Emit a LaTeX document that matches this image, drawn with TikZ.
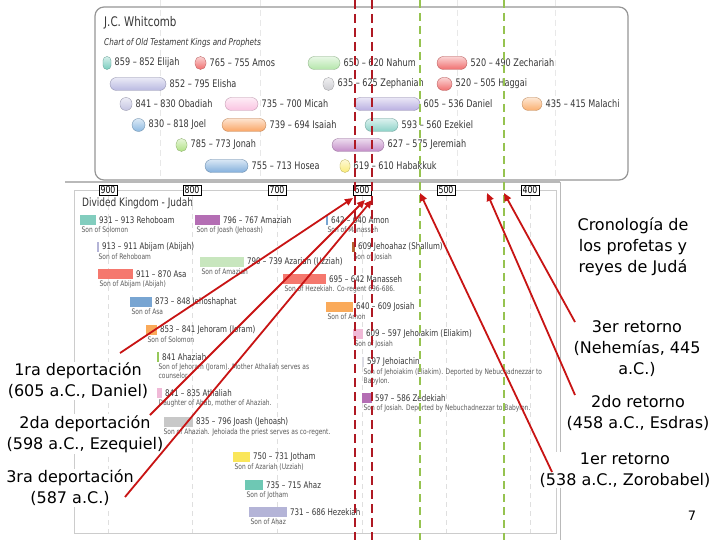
\documentclass[tikz,border=0pt]{standalone}
\usepackage{fontspec}
\setmainfont{DejaVu Sans}
\newfontfamily\chartfont[FakeStretch=0.78]{DejaVu Sans}
\usetikzlibrary{arrows.meta}

\definecolor{redline}{RGB}{175,25,35}
\definecolor{greenline}{RGB}{150,195,80}
\definecolor{arrowred}{RGB}{200,20,20}
\definecolor{chtext}{RGB}{55,55,55}
\definecolor{subtext}{RGB}{90,90,90}
\definecolor{framegray}{RGB}{150,150,150}
% prophets
\definecolor{cElijah}{RGB}{120,205,190}
\definecolor{cAmos}{RGB}{240,110,110}
\definecolor{cNahum}{RGB}{180,230,170}
\definecolor{cZech}{RGB}{240,110,110}
\definecolor{cElisha}{RGB}{185,185,225}
\definecolor{cZeph}{RGB}{205,205,210}
\definecolor{cObad}{RGB}{195,195,225}
\definecolor{cMicah}{RGB}{250,195,225}
\definecolor{cDaniel}{RGB}{185,175,225}
\definecolor{cMal}{RGB}{250,175,110}
\definecolor{cJoel}{RGB}{140,185,225}
\definecolor{cIsaiah}{RGB}{250,165,100}
\definecolor{cEzek}{RGB}{140,210,200}
\definecolor{cJonah}{RGB}{175,225,130}
\definecolor{cJer}{RGB}{195,140,200}
\definecolor{cHosea}{RGB}{130,175,220}
\definecolor{cHab}{RGB}{250,235,120}
% kings
\definecolor{kTeal}{RGB}{130,205,190}
\definecolor{kLav}{RGB}{180,180,215}
\definecolor{kSalmon}{RGB}{245,120,110}
\definecolor{kBlue}{RGB}{120,165,210}
\definecolor{kOrange}{RGB}{250,170,90}
\definecolor{kGreen}{RGB}{150,200,90}
\definecolor{kPink}{RGB}{240,185,215}
\definecolor{kGrey}{RGB}{200,200,200}
\definecolor{kPurple}{RGB}{180,110,180}
\definecolor{kLGreen}{RGB}{200,230,190}
\definecolor{kYellow}{RGB}{250,230,90}
\definecolor{kTeal2}{RGB}{110,200,180}
\definecolor{kBrown}{RGB}{180,100,50}
\definecolor{kLGrey}{RGB}{220,220,228}

\tikzset{
  pill/.style={draw=#1!75!black, line width=0.3pt, top color=#1!30!white, bottom color=#1,
    minimum height=13pt, inner sep=0pt, outer sep=0pt},
  plabel/.style={anchor=west, inner sep=0pt, font=\chartfont\fontsize{10.4}{11}\selectfont, text=chtext},
  kbar/.style={minimum height=10pt, inner sep=0pt, outer sep=0pt},
  klabel/.style={anchor=west, inner sep=0pt, font=\chartfont\fontsize{9.1}{10}\selectfont, text=chtext},
  ksub/.style={anchor=north west, inner sep=0pt, align=left, font=\chartfont\fontsize{7.6}{9}\selectfont, text=subtext},
  axisbox/.style={draw=black, line width=0.6pt, fill=white, inner sep=0pt, minimum width=18pt,
    minimum height=10pt, font=\chartfont\fontsize{10}{10}\selectfont},
  biglabel/.style={align=center, fill=white, inner sep=1pt, font=\fontsize{16}{21}\selectfont, text=black},
  arr/.style={draw=arrowred, line width=1.8pt, -{Triangle[length=8pt,width=7pt]}},
  reddash/.style={draw=redline, line width=2.3pt, dash pattern=on 9pt off 5pt},
  greendash/.style={draw=greenline, line width=2pt, dash pattern=on 8pt off 5pt},
}

\newcommand{\mypill}[6]{%
  \pgfmathsetmacro{\pw}{#3-#2}%
  \pgfmathsetmacro{\pr}{min(\pw/2,6.5)}%
  \pgfmathsetmacro{\pc}{(#2+#3)/2}%
  \node[pill=#5, minimum width=\pw pt, rounded corners=\pr pt] (#1) at (\pc,#4) {};%
  \node[plabel] (#1-l) at ([xshift=3.5pt]#1.east) {#6};%
}
\newcommand{\mybar}[7]{%
  \pgfmathsetmacro{\pw}{#3-#2}%
  \pgfmathsetmacro{\pc}{(#2+#3)/2}%
  \node[kbar, fill=#5, minimum width=\pw pt] (#1) at (\pc,#4) {};%
  \node[klabel] (#1-l) at ([xshift=3pt]#1.east) {#6};%
  \node[ksub] (#1-s) at (#2+1.5,#4+7) {#7};%
}

\begin{document}
\begin{tikzpicture}[x=1pt,y=-1pt]
\useasboundingbox (0,0) rectangle (720,540);
\fill[white] (0,0) rectangle (720,540);

% ---------- top chart ----------
\foreach \gx in {160,260,457,555}
  \draw[gray!18, dash pattern=on 6pt off 4pt, line width=0.8pt] (\gx,0) -- (\gx,180);
\draw[framegray, line width=1.2pt, rounded corners=9pt] (95,7) rectangle (628,180);

\node[anchor=west, inner sep=0pt, font=\chartfont\fontsize{13.2}{14}\selectfont, text=chtext] (title) at (104,23) {J.C. Whitcomb};
\node[anchor=west, inner sep=0pt, font=\chartfont\itshape\fontsize{9.3}{10}\selectfont, text=chtext] (subtitle) at (104,43) {Chart of Old Testament Kings and Prophets};

\mypill{elijah}{103}{111}{63}{cElijah}{859 – 852 Elijah}
\mypill{amos}{195}{206}{63}{cAmos}{765 – 755 Amos}
\mypill{nahum}{308}{340}{63}{cNahum}{650 – 620 Nahum}
\mypill{zech}{437}{467}{63}{cZech}{520 – 490 Zechariah}
\mypill{elisha}{110}{166}{84}{cElisha}{852 – 795 Elisha}
\mypill{zeph}{323}{334}{84}{cZeph}{635 – 625 Zephaniah}
\mypill{haggai}{437}{452}{84}{cZech}{520 – 505 Haggai}
\mypill{obad}{120}{132}{104}{cObad}{841 – 830 Obadiah}
\mypill{micah}{225}{258}{104}{cMicah}{735 – 700 Micah}
\mypill{daniel}{354}{420}{104}{cDaniel}{605 – 536 Daniel}
\mypill{malachi}{522}{542}{104}{cMal}{435 – 415 Malachi}
\mypill{joel}{132}{145}{125}{cJoel}{830 – 818 Joel}
\mypill{isaiah}{222}{266}{125}{cIsaiah}{739 – 694 Isaiah}
\mypill{ezekiel}{365}{398}{125}{cEzek}{593 – 560 Ezekiel}
\mypill{jonah}{176}{187}{145}{cJonah}{785 – 773 Jonah}
\mypill{jeremiah}{332}{384}{145}{cJer}{627 – 575 Jeremiah}
\mypill{hosea}{205}{248}{166}{cHosea}{755 – 713 Hosea}
\mypill{habakkuk}{340}{350}{166}{cHab}{619 – 610 Habakkuk}

% ---------- bottom chart ----------
\draw[gray!55, line width=1.4pt] (65,182) -- (560,182);
\draw[gray!40, line width=1pt] (74,191) rectangle (556,533);
\draw[gray!55, line width=1pt] (560,182) -- (560,540);
\foreach \gx in {108,192,277,362,446,530}
  \draw[gray!25, dash pattern=on 5pt off 4pt, line width=0.7pt] (\gx,196) -- (\gx,533);

\node[axisbox] (ax900) at (108,190) {900};
\node[axisbox] (ax800) at (192,190) {800};
\node[axisbox] (ax700) at (277,190) {700};
\node[axisbox] (ax600) at (362,190) {600};
\node[axisbox] (ax500) at (446,190) {500};
\node[axisbox] (ax400) at (530,190) {400};

\node[anchor=west, inner sep=0pt, font=\chartfont\fontsize{11.5}{12}\selectfont, text=chtext] (dktitle) at (82,203) {Divided Kingdom - Judah};

\mybar{rehoboam}{80}{96}{220}{kTeal}{931 – 913 Rehoboam}{Son of Solomon}
\mybar{abijam}{97}{99}{247}{kLav}{913 – 911 Abijam (Abijah)}{Son of Rehoboam}
\mybar{asa}{98}{133}{274}{kSalmon}{911 – 870 Asa}{Son of Abijam (Abijah)}
\mybar{jehoshaphat}{130}{152}{302}{kBlue}{873 – 848 Jehoshaphat}{Son of Asa}
\mybar{jehoram}{146}{157}{330}{kOrange}{853 – 841 Jehoram (Joram)}{Son of Solomon}
\mybar{ahaziah}{157}{159}{357}{kGreen}{841 Ahaziah}{Son of Jehoram (Joram). Mother Athaliah serves as\\counselor.}
\mybar{athaliah}{157}{162}{393}{kPink}{841 – 835 Athaliah}{Daughter of Ahab, mother of Ahaziah.}
\mybar{joash}{162}{193}{422}{kGrey}{835 – 796 Joash (Jehoash)}{Son of Ahaziah. Jehoiada the priest serves as co-regent.}
\mybar{amaziah}{195}{220}{220}{kPurple}{796 – 767 Amaziah}{Son of Joash (Jehoash)}
\mybar{azariah}{200}{244}{262}{kLGreen}{790 – 739 Azariah (Uzziah)}{Son of Amaziah}
\mybar{jotham}{233}{250}{457}{kYellow}{750 – 731 Jotham}{Son of Azariah (Uzziah)}
\mybar{ahaz}{245}{263}{485}{kTeal2}{735 – 715 Ahaz}{Son of Jotham}
\mybar{hezekiah}{249}{287}{512}{kLav}{731 – 686 Hezekiah}{Son of Ahaz}
\mybar{manasseh}{283}{326}{279}{kSalmon}{695 – 642 Manasseh}{Son of Hezekiah. Co-regent 696-686.}
\mybar{amon}{326}{328}{220}{kBlue}{642 – 640 Amon}{Son of Manasseh}
\mybar{jehoahaz}{352}{355}{247}{kBrown}{609 Jehoahaz (Shallum)}{Son of Josiah}
\mybar{josiah}{326}{353}{307}{kOrange}{640 – 609 Josiah}{Son of Amon}
\mybar{jehoiakim}{353}{363}{334}{kPink}{609 – 597 Jehoiakim (Eliakim)}{Son of Josiah}
\mybar{jehoiachin}{362}{364}{362}{kLGrey}{597 Jehoiachin}{Son of Jehoiakim (Eliakim). Deported by Nebuchadnezzar to\\Babylon.}
\mybar{zedekiah}{362}{372}{398}{kPurple}{597 – 586 Zedekiah}{Son of Josiah. Deported by Nebuchadnezzar to Babylon.}

% ---------- marker lines ----------
\draw[reddash] (355,0) -- (355,540);
\draw[reddash] (372,0) -- (372,540);
\draw[greendash] (420,0) -- (420,540);
\draw[greendash] (504,0) -- (504,540);

% ---------- annotation labels ----------
\node[biglabel] (dep1) at (78,381) {1ra deportación\\(605 a.C., Daniel)};
\node[biglabel] (dep2) at (85,434) {2da deportación\\(598 a.C., Ezequiel)};
\node[biglabel] (dep3) at (70,488) {3ra deportación\\(587 a.C.)};

\node[biglabel] (chron) at (633,247) {Cronología de\\los profetas y\\reyes de Judá};
\node[biglabel] (ret3) at (637,349) {3er retorno\\(Nehemías, 445\\a.C.)};
\node[biglabel] (ret2) at (638,413) {2do retorno\\(458 a.C., Esdras)};
\node[biglabel] (ret1) at (625,470) {1er retorno\\(538 a.C., Zorobabel)};
\node[inner sep=0pt, font=\fontsize{13}{13}\selectfont] (page) at (692,516) {7};

% ---------- arrows ----------
\coordinate (s1) at (120,353);
\coordinate (s2) at (150,415);
\coordinate (s3) at (125,497);
\coordinate (t1) at (353,198);
\coordinate (t2) at (365,200);
\coordinate (t3) at (372,200);
\coordinate (r1s) at (552,472);
\coordinate (r2s) at (575,395);
\coordinate (r3s) at (575,322);
\coordinate (r1t) at (420,193);
\coordinate (r2t) at (487,193);
\coordinate (r3t) at (504,193);

\draw[arr] (s1) -- (t1);
\draw[arr] (s2) -- (t2);
\draw[arr] (s3) -- (t3);
\draw[arr] (r1s) -- (r1t);
\draw[arr] (r2s) -- (r2t);
\draw[arr] (r3s) -- (r3t);
\end{tikzpicture}
\end{document}
